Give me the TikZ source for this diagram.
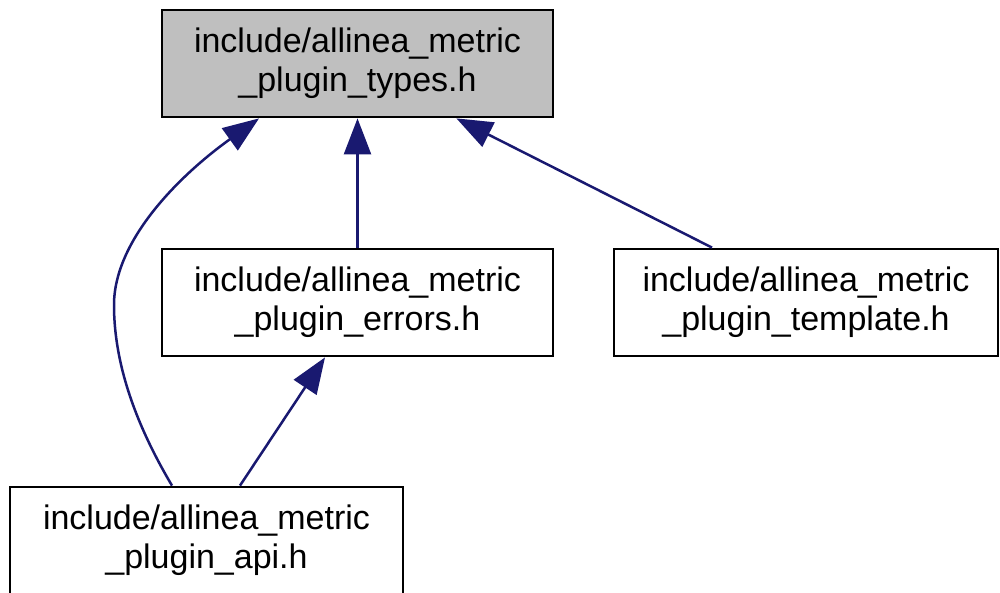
\documentclass[tikz,border=0pt]{standalone}
\usepackage{fontspec}
\setmainfont{Liberation Sans}
\usetikzlibrary{arrows.meta}
\definecolor{edgeblue}{HTML}{191970}
\definecolor{boxgray}{HTML}{BFBFBF}
\tikzset{
  filebox/.style={draw=black, line width=2.8pt, fill=white, align=center,
    minimum height=107pt, inner sep=0pt,
    font=\fontsize{34}{39}\selectfont},
  dep/.style={draw=edgeblue, line width=2.5pt,
    -{Triangle[length=36pt,width=27pt]}}
}
\begin{document}
\begin{tikzpicture}[x=1pt,y=-1pt]
\useasboundingbox (0,0) rectangle (1000,593);
\node[filebox, fill=boxgray, minimum width=391pt] (top) at (357.5,63.5)
  {include/allinea\_metric\\\_plugin\_types.h};
\node[filebox, minimum width=391pt] (err) at (357.5,302.5)
  {include/allinea\_metric\\\_plugin\_errors.h};
\node[filebox, minimum width=384pt] (tmpl) at (806,302.5)
  {include/allinea\_metric\\\_plugin\_template.h};
\node[filebox, minimum width=393pt] (api) at (206.5,540.5)
  {include/allinea\_metric\\\_plugin\_api.h};

\draw[dep] (err.north) -- (top.south);
\draw[dep] ([xshift=-94pt]tmpl.north) -- ([xshift=-98pt]top.south east);
\draw[dep] ([xshift=33.5pt]api.north) -- ([xshift=-32.5pt]err.south);
\coordinate (bend) at (114,305);
\draw[dep] ([xshift=-34.5pt]api.north)
  .. controls (145,440) and (114,375) .. (bend)
  .. controls (114,240) and (180,175) .. ([xshift=-98.5pt]top.south);
\end{tikzpicture}
\end{document}
